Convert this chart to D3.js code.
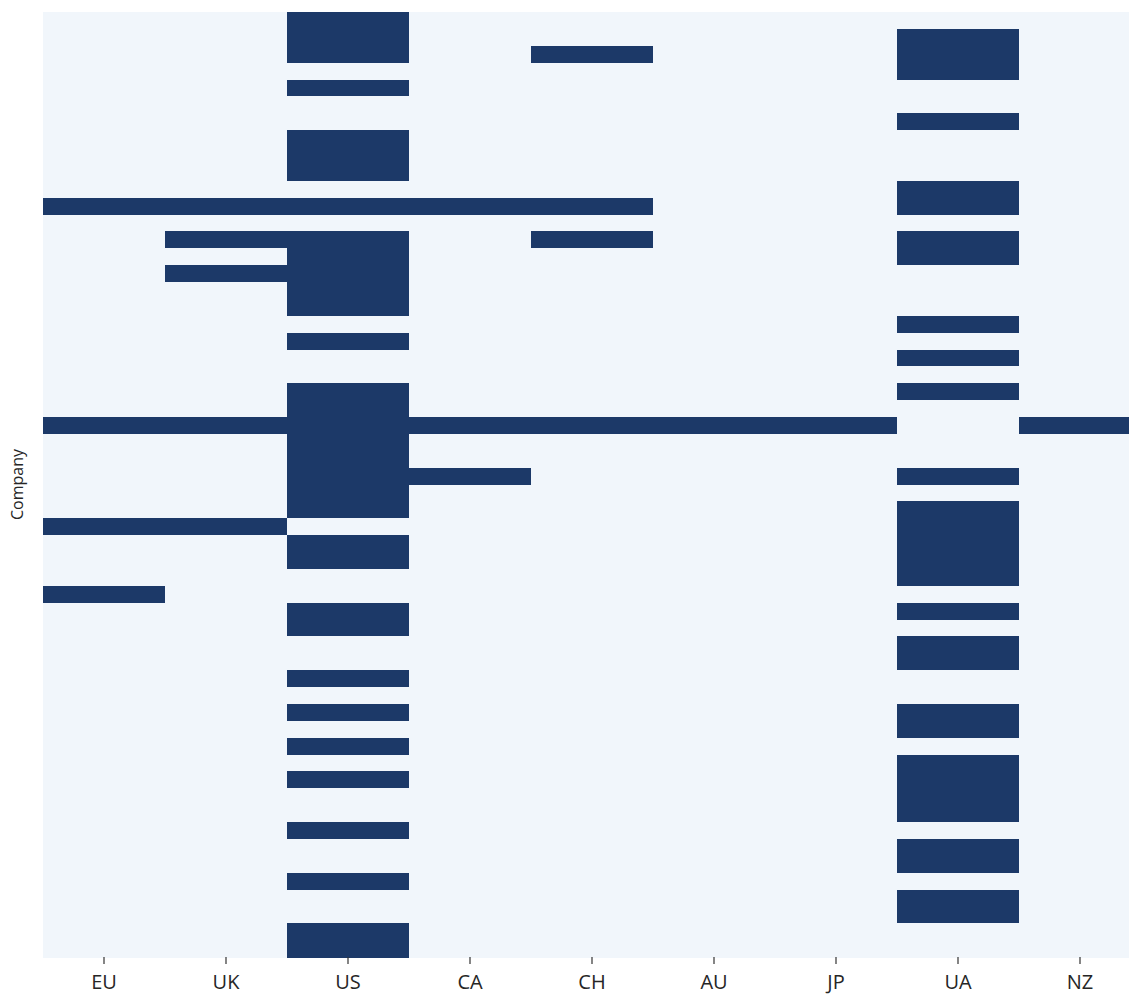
<!DOCTYPE html>
<html>
<head>
<meta charset="utf-8">
<script src="https://cdn.jsdelivr.net/npm/d3@7"></script>
<style>
  body { margin: 0; background: #fff; }
  svg { display: block; }
  .axis text { font-family: "Open Sans", sans-serif; }
</style>
</head>
<body>
<svg id="chart"></svg>
<script>
// Columns (countries) and the row indices (companies) flagged 1 in each column
const countries = ["EU", "UK", "US", "CA", "CH", "AU", "JP", "UA", "NZ"];
const companyCount = 56;
const companies = d3.range(companyCount).map(i => "Company " + (i + 1));

const euRows = [11, 24, 30, 34];
const ukRows = [11, 13, 15, 24, 30];
const usRows = [0, 1, 2, 4, 7, 8, 9, 11, 13, 14, 15, 16, 17, 19, 22, 23, 24, 25, 26, 27, 28, 29,
                31, 32, 35, 36, 39, 41, 43, 45, 48, 51, 54, 55];
const caRows = [11, 24, 27];
const chRows = [2, 11, 13, 24];
const auRows = [24];
const jpRows = [24];
const uaRows = [1, 2, 3, 6, 10, 11, 13, 14, 18, 20, 22, 27, 29, 30, 31, 32, 33, 35, 37, 38,
                41, 42, 44, 45, 46, 47, 49, 50, 52, 53];
const nzRows = [24];

const flagged = { EU: euRows, UK: ukRows, US: usRows, CA: caRows, CH: chRows,
                  AU: auRows, JP: jpRows, UA: uaRows, NZ: nzRows };

// build cell table
const cells = [];
countries.forEach(c => {
    const set = new Set(flagged[c]);
    companies.forEach((co, i) => {
        cells.push({ country: c, company: co, value: set.has(i) ? 1 : 0 });
    });
});

const width = 1129, height = 994;
const margin = { top: 12, left: 43 };
const plotW = 1098, plotH = 945;

const svg = d3.select("#chart").attr("width", width).attr("height", height);

const x = d3.scaleBand().domain(countries).range([margin.left, margin.left + plotW]);
const y = d3.scaleBand().domain(companies).range([margin.top, margin.top + plotH]);
const color = d3.scaleOrdinal().domain([0, 1]).range(["#f1f6fb", "#1c3968"]);

svg.append("g")
    .attr("shape-rendering", "crispEdges")
    .selectAll("rect")
    .data(cells)
    .join("rect")
    .attr("x", d => x(d.country))
    .attr("y", d => y(d.company))
    .attr("width", x.bandwidth() + 0.5)
    .attr("height", y.bandwidth() + 0.5)
    .attr("fill", d => color(d.value));

const xAxis = svg.append("g")
    .attr("class", "axis")
    .attr("transform", `translate(0,${margin.top + plotH})`)
    .call(d3.axisBottom(x).tickSize(7).tickPadding(11));
xAxis.select(".domain").remove();
xAxis.selectAll(".tick line").attr("stroke", "#333").attr("stroke-width", 1.2);
xAxis.selectAll(".tick text").attr("fill", "#262626").style("font-size", "20px");

svg.append("text")
    .attr("transform", `translate(23,${margin.top + plotH / 2}) rotate(-90)`)
    .attr("text-anchor", "middle")
    .style("font-family", "'Open Sans', sans-serif")
    .style("font-size", "16px")
    .attr("fill", "#262626")
    .text("Company");
</script>
</body>
</html>
